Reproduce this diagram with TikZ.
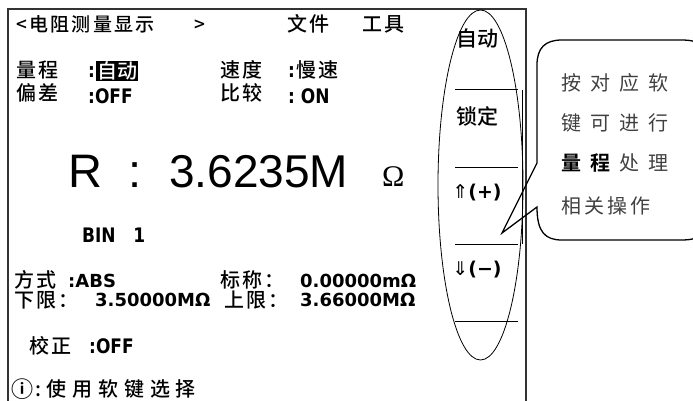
\documentclass[tikz,border=0pt]{standalone}
\usepackage{fontspec}
\usetikzlibrary{positioning}
\setmainfont{DejaVu Sans}
\newfontfamily\cjk{Noto Sans CJK SC}[BoldFont={Noto Sans CJK SC Bold}]
\newfontfamily\cjkm{Noto Sans CJK SC Medium}
\newfontfamily\dsb{DejaVu Sans}
\newfontfamily\dsn{DejaVu Sans}[FakeStretch=0.85]
\newfontfamily\lib{Liberation Sans}
\newfontfamily\libs{Liberation Serif}
\tikzset{
  scr/.style={anchor=base west,inner sep=0pt,font=\cjkm\fontsize{20}{20}\selectfont\addfontfeature{LetterSpace=12}},
  lat/.style={anchor=base west,inner sep=0pt,font=\dsn\bfseries\fontsize{20}{20}\selectfont},
  val/.style={anchor=base west,inner sep=0pt,font=\dsb\bfseries\fontsize{18}{18}\selectfont},
  soft/.style={inner sep=0pt,font=\cjkm\fontsize{21}{21}\selectfont},
  tiptext/.style={anchor=base west,inner sep=0pt,text=black!75,font=\cjk\fontsize{20}{20}\selectfont\addfontfeature{LetterSpace=45}},
  sep/.style={line width=1pt},
}
\begin{document}
\begin{tikzpicture}[x=1pt,y=-1pt,node distance=77pt]
  \useasboundingbox (0,0) rectangle (693,401);
  \clip (0,0) rectangle (693,401);

  % screen
  \draw[line width=1.2pt,black!80] (8,401) -- (8,9) -- (526,9) -- (526,401);

  \node[scr,font=\cjkm\fontsize{19}{19}\selectfont\addfontfeature{LetterSpace=12}] (title) at (16,32) {<电阻测量显示\hspace{40pt}>};
  \node[scr] (file) at (287,32) {文件};
  \node[scr] (tool) at (362,32) {工具};

  \node[scr] (range) at (16,78) {量程};
  \node[lat] (rangec) at (88,78) {:};
  \node[fill=black,text=white,inner sep=1pt,font=\cjkm\fontsize{20}{20}\selectfont,anchor=west] (rangev) at (96,71) {自动};
  \node[scr] (speed) at (220,78) {速度};
  \node[lat] (speedc) at (288,78) {:};
  \node[scr,right=1pt of speedc.base east,anchor=base west] (speedv) {慢速};

  \node[scr] (dev) at (16,101) {偏差};
  \node[lat] (devv) at (88,104) {:OFF};
  \node[scr] (cmp) at (220,101) {比较};
  \node[lat] (cmpv) at (288,104) {:\ ON};

  % main reading
  \node[anchor=base west,inner sep=0pt,font=\lib\fontsize{47}{47}\selectfont] (rr) at (68,187) {R};
  \node[anchor=base west,inner sep=0pt,font=\lib\fontsize{47}{47}\selectfont] (rc) at (128,187) {:};
  \node[anchor=base west,inner sep=0pt,font=\lib\fontsize{46}{46}\selectfont] (rv) at (169,187) {3.6235M};
  \node[anchor=base west,inner sep=0pt,font=\libs\fontsize{30}{30}\selectfont] (ohm) at (382,186) {Ω};

  \node[lat] (bin) at (82,242) {BIN\ \ \ 1};

  \node[scr] (mode) at (14,287) {方式};
  \node[val] (modev) at (68,287) {:ABS};
  \node[scr] (nom) at (220,287) {标称：};
  \node[val] (nomv) at (300,287) {0.00000mΩ};
  \node[scr] (low) at (14,307) {下限：};
  \node[val] (lowv) at (95,306) {3.50000MΩ};
  \node[scr] (up) at (224,307) {上限：};
  \node[val] (upv) at (300,306) {3.66000MΩ};

  \node[scr] (cal) at (29,353) {校正};
  \node[lat] (calv) at (89,353) {:OFF};

  \node[anchor=base west,inner sep=0pt,font=\cjk\bfseries\fontsize{22}{22}\selectfont] (info) at (11,397) {ⓘ};
  \node[scr,font=\cjkm\fontsize{20}{20}\selectfont\addfontfeature{LetterSpace=29}] (hint) at (35,396) {:使用软键选择};

  % soft keys
  \node[soft] (k1) at (477,39) {自动};
  \node[soft,below of=k1] (k2) {锁定};
  \node[soft,below of=k2,font=\dsb\bfseries\fontsize{19}{19}\selectfont] (k3) {{\mdseries⇑}(+)};
  \node[soft,below of=k3,font=\dsb\bfseries\fontsize{19}{19}\selectfont] (k4) {{\mdseries⇓}(−)};
  \foreach \y in {90,167,244,321}
    \draw[sep] (455,\y) -- (518,\y);
  \draw[sep] (522,90) -- (522,244);
  \draw[line width=0.8pt] (480.5,185) ellipse [x radius=42.5pt, y radius=175pt];

  % callout
  \draw[line width=1.3pt] (537,163) -- (502,233) coordinate (tip) -- (537,207)
    .. controls (537,232) and (545,240) .. (562,240) -- (681,240)
    .. controls (700,240) and (705,235) .. (705,216) -- (705,64)
    .. controls (705,45) and (700,40) .. (681,40) -- (562,40)
    .. controls (545,40) and (537,48) .. (537,65) -- cycle;
  \node[tiptext] (t1) at (561,91) {按对应软};
  \node[tiptext] (t2) at (561,131) {键可进行};
  \node[tiptext] (t3) at (561,170) {{\bfseries\color{black}\addfontfeature{LetterSpace=45}量程}\hspace{9pt}处理};
  \node[tiptext,font=\cjk\fontsize{20}{20}\selectfont\addfontfeature{LetterSpace=15}] (t4) at (561,213) {相关操作};
\end{tikzpicture}
\end{document}
